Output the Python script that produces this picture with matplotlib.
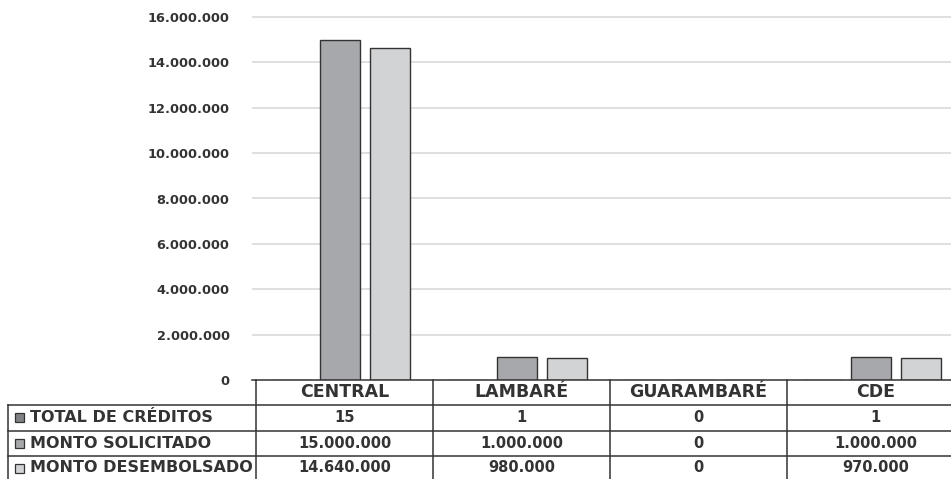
import numpy as np
import matplotlib
matplotlib.use("Agg")
import matplotlib.pyplot as plt
from matplotlib.lines import Line2D
from matplotlib.patches import Rectangle
import matplotlib.transforms as mtransforms

# data
categories = ["CENTRAL", "LAMBARÉ", "GUARAMBARÉ", "CDE"]
series_names = ["TOTAL DE CRÉDITOS", "MONTO SOLICITADO", "MONTO DESEMBOLSADO"]
total_creditos = [15, 1, 0, 1]
monto_solicitado = [15000000, 1000000, 0, 1000000]
monto_desembolsado = [14640000, 980000, 0, 970000]
yticks = [0, 2000000, 4000000, 6000000, 8000000, 10000000, 12000000, 14000000, 16000000]

series = [total_creditos, monto_solicitado, monto_desembolsado]
colors = ["#808184", "#a7a8ab", "#d2d3d5"]
offsets = [-0.305, -0.023, 0.259]
bar_w = 0.226
txt = "#333333"
font = "DejaVu Sans"


def fmt(v):
    return f"{v:,}".replace(",", ".")


W, H = 951, 479
fig = plt.figure(figsize=(W / 100, H / 100), dpi=100)
L, CW = 256, 177
ax = fig.add_axes([L / W, 1 - 380 / H, 4 * CW / W, 363 / H])

x = np.arange(len(categories))
for vals, c, off in zip(series, colors, offsets):
    ax.bar(x + off, vals, width=bar_w, color=c, edgecolor="#333333", linewidth=1.0, zorder=3)

ax.set_xlim(-0.5, 3.5)
ax.set_ylim(0, 16000000)
ax.hlines(yticks[1:], -0.52, 3.5, color="#d9d9d9", linewidth=1.2, zorder=1, clip_on=False)
for s in ax.spines.values():
    s.set_visible(False)
ax.set_xticks([])
ax.set_yticks(yticks)
ax.set_yticklabels([fmt(v) for v in yticks], fontsize=9.3, fontweight="bold", color=txt, family=font)
ax.tick_params(axis="y", length=0, pad=19)

# data table under the plot
tr = mtransforms.blended_transform_factory(ax.transData, fig.transFigure)
ff = fig.transFigure


def fy(py):
    return 1 - py / H


line_kw = dict(color="#333333", linewidth=1.1)
# zero line / header top
fig.add_artist(Line2D([252 / W, 1], [fy(380), fy(380)], transform=ff, **line_kw))
# row lines
for py in [405, 431, 456]:
    fig.add_artist(Line2D([8 / W, 1], [fy(py), fy(py)], transform=ff, **line_kw))
# left border of label column
fig.add_artist(Line2D([8 / W, 8 / W], [fy(405), 0], transform=ff, **line_kw))
# column dividers
for xb in [-0.5, 0.5, 1.5, 2.5]:
    fig.add_artist(Line2D([xb, xb], [fy(380), 0], transform=tr, **line_kw))

for i, cat in enumerate(categories):
    fig.text(i, fy(392), cat, transform=tr, ha="center", va="center",
             fontsize=12.5, fontweight="bold", color=txt, family=font)

row_y = [417, 443, 468]
for name, vals, c, ry in zip(series_names, series, colors, row_y):
    fig.add_artist(Rectangle((15 / W, fy(ry + 4.5)), 9 / W, 9 / H, transform=ff,
                             facecolor=c, edgecolor="#333333", linewidth=0.9))
    fig.text(30 / W, fy(ry), name, transform=ff, ha="left", va="center",
             fontsize=11.5, fontweight="bold", color=txt, family=font)
    for i, v in enumerate(vals):
        fig.text(i, fy(ry), fmt(v), transform=tr, ha="center", va="center",
                 fontsize=10.5, fontweight="bold", color=txt, family=font)

fig.savefig("out.png", dpi=100)
